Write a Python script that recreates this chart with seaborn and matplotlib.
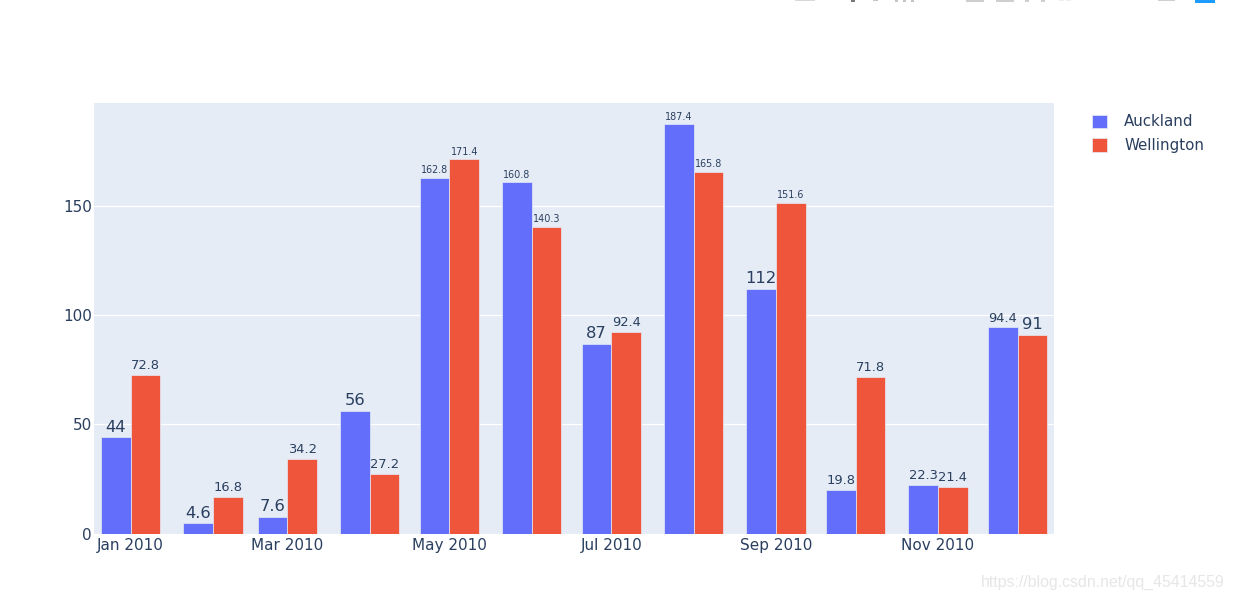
import matplotlib
matplotlib.use("Agg")
import matplotlib.pyplot as plt
import matplotlib.dates as mdates
from matplotlib.patches import Rectangle
import pandas as pd
import seaborn as sns

months = ["2010-01-01", "2010-02-01", "2010-03-01", "2010-04-01", "2010-05-01", "2010-06-01",
          "2010-07-01", "2010-08-01", "2010-09-01", "2010-10-01", "2010-11-01", "2010-12-01"]
auckland = [44, 4.6, 7.6, 56, 162.8, 160.8, 87, 187.4, 112, 19.8, 22.3, 94.4]
wellington = [72.8, 16.8, 34.2, 27.2, 171.4, 140.3, 92.4, 165.8, 151.6, 71.8, 21.4, 91]
tick_dates = ["2010-01-01", "2010-03-01", "2010-05-01", "2010-07-01", "2010-09-01", "2010-11-01"]
tick_labels = ["Jan 2010", "Mar 2010", "May 2010", "Jul 2010", "Sep 2010", "Nov 2010"]
y_ticks = [0, 50, 100, 150]
series_names = ["Auckland", "Wellington"]

TXT = "#2a3f5f"
W, H = 1234, 600
nums = [float(mdates.date2num(pd.Timestamp(m))) for m in months]
df = pd.DataFrame({
    "day": nums * 2,
    "value": auckland + wellington,
    "city": [series_names[0]] * 12 + [series_names[1]] * 12,
})

sns.set_theme(style="white", rc={"font.family": "DejaVu Sans"})
fig = plt.figure(figsize=(W / 100, H / 100), dpi=100)
ax = fig.add_axes([94 / W, 1 - 533.5 / H, 960 / W, 430.5 / H])
ax.set_facecolor("#E5ECF6")
sns.barplot(data=df, x="day", y="value", hue="city", native_scale=True, width=0.8, gap=0,
            palette=["#636EFA", "#EF553B"], edgecolor="#E5ECF6", linewidth=0.5,
            saturation=1, ax=ax, zorder=3, legend=True)

x0 = nums[0]
ax.set_xlim(x0 - 36.6 / 2.656, x0 + 923.4 / 2.656)
ax.set_ylim(0, 430.5 / 2.183)
ax.set_xticks([float(mdates.date2num(pd.Timestamp(d))) for d in tick_dates])
ax.set_xticklabels(tick_labels)
ax.set_yticks(y_ticks)
ax.tick_params(axis="both", length=0, labelsize=11, labelcolor=TXT)
ax.tick_params(axis="y", pad=1.5)
ax.tick_params(axis="x", pad=3.5)
ax.set_xlabel("")
ax.set_ylabel("")
ax.grid(axis="y", color="white", linewidth=0.9, zorder=1)
ax.set_axisbelow(True)
for s in ax.spines.values():
    s.set_visible(False)

def size_for(text):
    return {4: 9.4, 5: 6.9}.get(len(text), 11.8)

for container in ax.containers:
    for bar in container:
        lab = f"{bar.get_height():g}"
        ax.annotate(lab, (bar.get_x() + bar.get_width() / 2, bar.get_height()),
                    xytext=(0, 2), textcoords="offset points", ha="center", va="bottom",
                    fontsize=size_for(lab), color=TXT, zorder=4)

handles, labs = ax.get_legend_handles_labels()
ax.legend(handles, labs, loc="upper left", bbox_to_anchor=(1078.5 / W, 1 - 101 / H),
          bbox_transform=fig.transFigure, frameon=False, fontsize=10.8, labelcolor=TXT,
          handlelength=1.0, handleheight=1.0, handletextpad=1.15, labelspacing=0.58)

fig.text(1225 / W, 1 - 582 / H, "https://blog.csdn.net/qq_45414559", ha="right", va="center",
         fontsize=11.4, color="#e6e6e6", family="Liberation Sans")

# Cropped browser toolbar remnants along the top edge of the screenshot
toolbar_bits = [(795, 20, 1, "#d8d8d8"), (851, 4, 2, "#777777"), (873, 5, 1, "#c4c4c4"),
                (895, 3, 2, "#c4c4c4"), (903, 3, 2, "#c4c4c4"), (911, 3, 2, "#c4c4c4"),
                (966, 18, 2, "#cfcfcf"), (996, 18, 2, "#cfcfcf"), (1025, 4, 2, "#cfcfcf"),
                (1041, 4, 2, "#cfcfcf"), (1059, 5, 1, "#eeeeee"), (1066, 5, 1, "#eeeeee"),
                (1158, 17, 1, "#cfcfcf"), (1195, 20, 3, "#1e9bff")]
for bx, bw, bh, bc in toolbar_bits:
    fig.add_artist(Rectangle((bx / W, 1 - bh / H), bw / W, bh / H, transform=fig.transFigure,
                             facecolor=bc, edgecolor="none"))

fig.savefig("out.png", dpi=100)
